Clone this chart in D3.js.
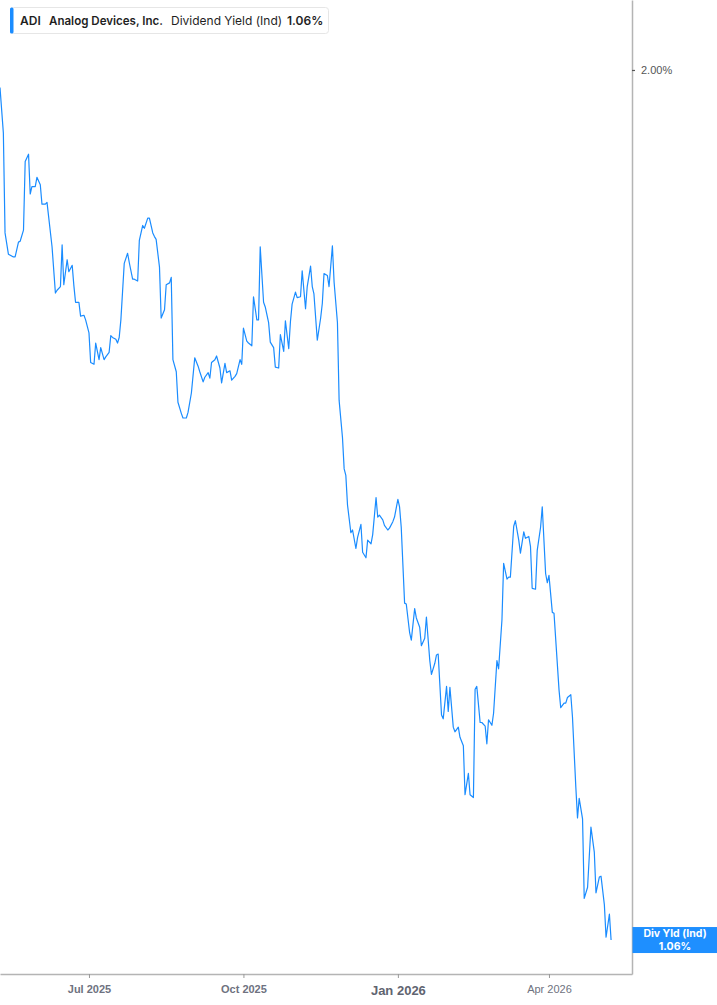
<!DOCTYPE html>
<html>
<head>
<meta charset="utf-8">
<script src="https://cdn.jsdelivr.net/npm/d3@7"></script>
<style>
  html, body { margin: 0; padding: 0; background: #ffffff; }
  svg { display: block; font-family: Inter, "Noto Sans", Roboto, sans-serif; }
</style>
</head>
<body>
<svg id="chart" width="717" height="1005"></svg>
<script>
// ---- data ----
const ticker = "ADI";
const companyName = "Analog Devices, Inc.";
const metricName = "Dividend Yield (Ind)";
const endLabel = "Div Yld (Ind)";
const yTickValues = [2.00];
const xTickDates = ["2025-07-01", "2025-10-01", "2026-01-01", "2026-04-01"];
const xTickLabels = ["Jul 2025", "Oct 2025", "Jan 2026", "Apr 2026"];
const xDomain = ["2025-05-09T00:00", "2026-05-20T11:00"];
const yDomain = [1.0233, 2.0756];

const series = [
["2025-05-09",1.981],["2025-05-11",1.932],["2025-05-12",1.824],["2025-05-14",1.801],["2025-05-17",1.798],
["2025-05-18",1.798],["2025-05-20",1.814],["2025-05-21",1.815],["2025-05-23",1.827],["2025-05-24",1.901],
["2025-05-26",1.909],["2025-05-27",1.866],["2025-05-28",1.874],["2025-05-30",1.874],["2025-05-31",1.884],
["2025-06-02",1.876],["2025-06-03",1.855],["2025-06-05",1.855],["2025-06-06",1.857],["2025-06-09",1.809],
["2025-06-11",1.759],["2025-06-12",1.762],["2025-06-14",1.766],["2025-06-15",1.811],["2025-06-16",1.768],
["2025-06-18",1.795],["2025-06-19",1.782],["2025-06-21",1.789],["2025-06-22",1.767],["2025-06-23",1.749],
["2025-06-25",1.749],["2025-06-26",1.734],["2025-06-28",1.735],["2025-06-29",1.730],["2025-07-01",1.716],
["2025-07-02",1.684],["2025-07-04",1.682],["2025-07-05",1.705],["2025-07-07",1.687],["2025-07-08",1.700],
["2025-07-10",1.687],["2025-07-11",1.690],["2025-07-13",1.695],["2025-07-14",1.713],["2025-07-15",1.711],
["2025-07-17",1.709],["2025-07-18",1.705],["2025-07-19",1.711],["2025-07-20",1.730],["2025-07-22",1.791],
["2025-07-24",1.802],["2025-07-25",1.792],["2025-07-27",1.774],["2025-07-28",1.774],["2025-07-30",1.772],
["2025-07-31",1.816],["2025-08-02",1.832],["2025-08-03",1.829],["2025-08-05",1.840],["2025-08-06",1.840],
["2025-08-08",1.824],["2025-08-09",1.820],["2025-08-10",1.817],["2025-08-12",1.787],["2025-08-13",1.732],
["2025-08-15",1.741],["2025-08-16",1.768],["2025-08-18",1.770],["2025-08-19",1.776],["2025-08-20",1.687],
["2025-08-22",1.674],["2025-08-23",1.641],["2025-08-25",1.629],["2025-08-26",1.624],["2025-08-28",1.624],
["2025-08-29",1.630],["2025-08-31",1.651],["2025-09-02",1.689],["2025-09-04",1.680],["2025-09-05",1.674],
["2025-09-07",1.663],["2025-09-08",1.668],["2025-09-10",1.673],["2025-09-11",1.667],["2025-09-12",1.684],
["2025-09-14",1.687],["2025-09-15",1.691],["2025-09-17",1.678],["2025-09-18",1.662],["2025-09-20",1.683],
["2025-09-21",1.673],["2025-09-23",1.675],["2025-09-24",1.665],["2025-09-26",1.669],["2025-09-27",1.672],
["2025-09-29",1.687],["2025-09-30",1.682],["2025-10-01",1.721],["2025-10-03",1.707],["2025-10-04",1.705],
["2025-10-06",1.702],["2025-10-07",1.755],["2025-10-09",1.730],["2025-10-10",1.730],["2025-10-11",1.809],
["2025-10-13",1.749],["2025-10-14",1.744],["2025-10-16",1.727],["2025-10-17",1.706],["2025-10-19",1.700],
["2025-10-20",1.679],["2025-10-22",1.678],["2025-10-23",1.714],["2025-10-25",1.696],["2025-10-26",1.729],
["2025-10-28",1.699],["2025-10-29",1.728],["2025-10-30",1.747],["2025-11-01",1.760],["2025-11-02",1.754],
["2025-11-04",1.755],["2025-11-05",1.783],["2025-11-07",1.742],["2025-11-08",1.766],["2025-11-10",1.788],
["2025-11-11",1.766],["2025-11-12",1.758],["2025-11-14",1.708],["2025-11-16",1.732],["2025-11-17",1.748],
["2025-11-18",1.780],["2025-11-20",1.778],["2025-11-21",1.766],["2025-11-23",1.810],["2025-11-24",1.771],
["2025-11-26",1.727],["2025-11-27",1.643],["2025-11-29",1.603],["2025-11-30",1.569],["2025-12-01",1.562],
["2025-12-02",1.530],["2025-12-04",1.500],["2025-12-05",1.503],["2025-12-07",1.483],["2025-12-08",1.495],
["2025-12-10",1.509],["2025-12-11",1.479],["2025-12-13",1.473],["2025-12-14",1.492],["2025-12-16",1.488],
["2025-12-17",1.498],["2025-12-19",1.538],["2025-12-20",1.517],["2025-12-21",1.519],["2025-12-23",1.514],
["2025-12-24",1.508],["2025-12-26",1.503],["2025-12-27",1.505],["2025-12-29",1.512],["2025-12-30",1.517],
["2026-01-01",1.536],["2026-01-02",1.528],["2026-01-03",1.506],["2026-01-05",1.424],["2026-01-06",1.423],
["2026-01-08",1.392],["2026-01-09",1.384],["2026-01-11",1.418],["2026-01-12",1.408],["2026-01-14",1.398],
["2026-01-15",1.378],["2026-01-17",1.386],["2026-01-18",1.409],["2026-01-20",1.362],["2026-01-21",1.347],
["2026-01-23",1.359],["2026-01-24",1.368],["2026-01-25",1.369],["2026-01-27",1.303],["2026-01-28",1.299],
["2026-01-30",1.334],["2026-01-31",1.307],["2026-02-01",1.333],["2026-02-03",1.290],["2026-02-04",1.285],
["2026-02-06",1.290],["2026-02-07",1.279],["2026-02-09",1.270],["2026-02-10",1.217],["2026-02-12",1.240],
["2026-02-13",1.217],["2026-02-15",1.214],["2026-02-16",1.331],["2026-02-17",1.334],["2026-02-19",1.295],
["2026-02-20",1.295],["2026-02-22",1.291],["2026-02-23",1.272],["2026-02-24",1.298],["2026-02-26",1.292],
["2026-02-27",1.305],["2026-03-01",1.362],["2026-03-02",1.353],["2026-03-04",1.406],["2026-03-05",1.467],
["2026-03-07",1.450],["2026-03-08",1.452],["2026-03-09",1.452],["2026-03-11",1.507],["2026-03-12",1.513],
["2026-03-14",1.492],["2026-03-15",1.478],["2026-03-17",1.501],["2026-03-18",1.494],["2026-03-20",1.496],
["2026-03-21",1.485],["2026-03-22",1.440],["2026-03-24",1.439],["2026-03-25",1.481],["2026-03-27",1.506],
["2026-03-28",1.528],["2026-03-30",1.456],["2026-03-31",1.446],["2026-04-01",1.454],["2026-04-03",1.414],
["2026-04-04",1.413],["2026-04-07",1.330],["2026-04-08",1.311],["2026-04-10",1.316],["2026-04-11",1.316],
["2026-04-12",1.322],["2026-04-14",1.325],["2026-04-15",1.301],["2026-04-17",1.225],["2026-04-18",1.192],
["2026-04-19",1.213],["2026-04-21",1.191],["2026-04-22",1.105],["2026-04-24",1.117],["2026-04-25",1.150],
["2026-04-26",1.182],["2026-04-28",1.155],["2026-04-29",1.111],["2026-05-01",1.128],["2026-05-02",1.129],
["2026-05-04",1.098],["2026-05-05",1.063],["2026-05-07",1.088],["2026-05-08",1.060]
];

// ---- layout ----
const W = 717, H = 1005;
const plot = { left: 0, top: 0, right: 632, bottom: 974 };
const lineColor = "#1a8cff";
const axisColor = "#b4b4b4";

const parseDay = d3.utcParse("%Y-%m-%d");
const parseDT = d3.utcParse("%Y-%m-%dT%H:%M");
const data = series.map(([d, v]) => ({ date: parseDay(d), value: v }));

const x = d3.scaleUtc()
  .domain(xDomain.map(parseDT))
  .range([plot.left, plot.right]);
const y = d3.scaleLinear()
  .domain(yDomain)
  .range([plot.bottom, plot.top]);

const svg = d3.select("#chart");

svg.append("defs").append("clipPath").attr("id", "clip")
  .append("rect")
  .attr("x", plot.left).attr("y", plot.top)
  .attr("width", plot.right - plot.left).attr("height", plot.bottom - plot.top);

// line
const line = d3.line().x(d => x(d.date)).y(d => y(d.value));
svg.append("path")
  .datum(data)
  .attr("clip-path", "url(#clip)")
  .attr("fill", "none")
  .attr("stroke", lineColor)
  .attr("stroke-width", 1.2)
  .attr("stroke-linejoin", "round")
  .attr("d", line);

// bottom axis
const xTicks = xTickDates.map(parseDay);
const xAxis = d3.axisBottom(x)
  .tickValues(xTicks)
  .tickSize(4)
  .tickSizeOuter(0)
  .tickPadding(5)
  .tickFormat((d, i) => xTickLabels[i]);
const gx = svg.append("g")
  .attr("transform", `translate(0,${plot.bottom})`)
  .call(xAxis);
gx.select(".domain").attr("stroke", axisColor).attr("stroke-width", 1.5);
gx.selectAll(".tick line").attr("stroke", "#9a9a9a").attr("stroke-width", 1);
gx.selectAll(".tick text")
  .attr("dy", "0.9em")
  .style("font-size", (d, i) => xTickLabels[i].startsWith("Jan") ? "13px" : "11px")
  .style("font-weight", (d, i) => xTickLabels[i].startsWith("Jan") ? "700" : (xTickLabels[i].startsWith("Apr") ? "500" : "600"))
  .attr("fill", (d, i) => xTickLabels[i].startsWith("Jan") ? "#5f6470" : "#6e7280");

// right axis
const yAxis = d3.axisRight(y)
  .tickValues(yTickValues)
  .tickSize(3)
  .tickSizeOuter(0)
  .tickPadding(6)
  .tickFormat(d => d3.format(".2f")(d) + "%");
const gy = svg.append("g")
  .attr("transform", `translate(${plot.right},0)`)
  .call(yAxis);
gy.select(".domain").attr("stroke", axisColor).attr("stroke-width", 1.5);
gy.selectAll(".tick line").attr("stroke", "#555").attr("stroke-width", 1.2);
gy.selectAll(".tick text")
  .attr("fill", "#555")
  .style("font-size", "11px")
  .style("font-weight", "400");

// end-value label on the right axis
const last = data[data.length - 1];
const ly = y(last.value);
const endG = svg.append("g");
endG.append("rect")
  .attr("x", plot.right + 0.5).attr("y", ly - 13)
  .attr("width", W - plot.right).attr("height", 26)
  .attr("fill", "#1e8fff");
endG.append("text")
  .attr("x", plot.right + (W - plot.right) / 2 + 0.5).attr("y", ly - 3)
  .attr("text-anchor", "middle").attr("fill", "#fff")
  .style("font-size", "10.5px").style("font-weight", "700")
  .text(endLabel);
endG.append("text")
  .attr("x", plot.right + (W - plot.right) / 2 + 0.5).attr("y", ly + 9.5)
  .attr("text-anchor", "middle").attr("fill", "#fff")
  .style("font-size", "10.5px").style("font-weight", "700")
  .text(d3.format(".2f")(last.value) + "%");

// legend box (top-left)
const lg = svg.append("g");
lg.append("rect")
  .attr("x", 10.5).attr("y", 7.5).attr("width", 318).attr("height", 26)
  .attr("rx", 3).attr("fill", "#fff").attr("stroke", "#e6e6e6");
lg.append("rect")
  .attr("x", 10).attr("y", 7.5).attr("width", 3.5).attr("height", 26)
  .attr("rx", 1.5).attr("fill", lineColor);
const lt = lg.append("text").attr("x", 20).attr("y", 25)
  .style("font-size", "12px").attr("fill", "#1f1f1f");
lt.append("tspan").style("font-weight", "600").text(ticker);
lt.append("tspan").attr("x", 49).style("font-weight", "600").attr("textLength", 114).attr("lengthAdjust", "spacingAndGlyphs").text(companyName);
lt.append("tspan").attr("x", 171).style("font-weight", "400").text(metricName);
lt.append("tspan").attr("x", 287).style("font-weight", "600").text(d3.format(".2f")(last.value) + "%");
</script>
</body>
</html>
